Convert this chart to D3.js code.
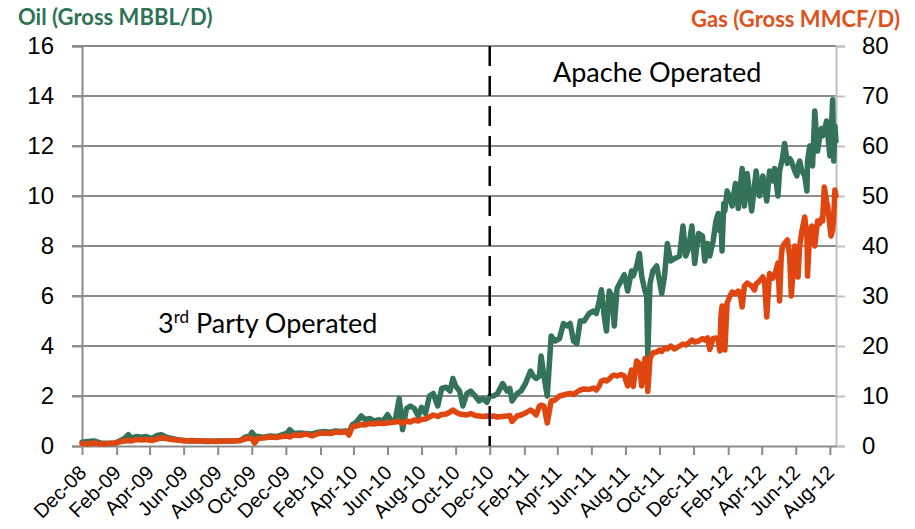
<!DOCTYPE html>
<html>
<head>
<meta charset="utf-8">
<script src="https://cdn.jsdelivr.net/npm/d3@7/dist/d3.min.js"></script>
<style>
  body { margin: 0; background: #fff; }
  svg { display: block; font-family: Lato, "Open Sans", sans-serif; }
</style>
</head>
<body>
<figure id="chart" style="margin:0"></figure>
<script>
// x-axis tick labels (every second month)
const tickLabels = ["Dec-08", "Feb-09", "Apr-09", "Jun-09", "Aug-09", "Oct-09", "Dec-09",
  "Feb-10", "Apr-10", "Jun-10", "Aug-10", "Oct-10", "Dec-10", "Feb-11", "Apr-11", "Jun-11",
  "Aug-11", "Oct-11", "Dec-11", "Feb-12", "Apr-12", "Jun-12", "Aug-12"];
const oilTicks = [0, 2, 4, 6, 8, 10, 12, 14, 16];
const gasTicks = [0, 10, 20, 30, 40, 50, 60, 70, 80];
const operatorChange = "2010-12-01";

// sample dates
const dates = [
  "2008-12-01", "2008-12-12", "2008-12-22", "2009-01-03", "2009-01-17", "2009-01-30",
  "2009-02-08", "2009-02-15", "2009-02-22", "2009-02-28", "2009-03-08", "2009-03-17",
  "2009-03-26", "2009-04-05", "2009-04-14", "2009-04-22", "2009-05-01", "2009-05-10",
  "2009-05-21", "2009-06-03", "2009-06-15", "2009-06-30", "2009-07-14", "2009-07-28",
  "2009-08-12", "2009-08-26", "2009-09-10", "2009-09-19", "2009-09-28", "2009-10-01",
  "2009-10-06", "2009-10-12", "2009-10-22", "2009-11-03", "2009-11-14", "2009-11-24",
  "2009-12-03", "2009-12-08", "2009-12-15", "2009-12-26", "2010-01-06", "2010-01-17",
  "2010-01-28", "2010-02-08", "2010-02-19", "2010-02-28", "2010-03-10", "2010-03-19",
  "2010-03-24", "2010-03-30", "2010-04-06", "2010-04-15", "2010-04-22", "2010-04-30",
  "2010-05-08", "2010-05-17", "2010-05-24", "2010-06-01", "2010-06-08", "2010-06-15",
  "2010-06-22", "2010-06-28", "2010-07-05", "2010-07-12", "2010-07-19", "2010-07-26",
  "2010-08-01", "2010-08-08", "2010-08-15", "2010-08-22", "2010-08-30", "2010-09-06",
  "2010-09-14", "2010-09-21", "2010-09-26", "2010-10-01", "2010-10-08", "2010-10-14",
  "2010-10-21", "2010-10-28", "2010-11-05", "2010-11-12", "2010-11-19", "2010-11-26",
  "2010-12-01", "2010-12-08", "2010-12-15", "2010-12-24", "2011-01-01", "2011-01-06",
  "2011-01-10", "2011-01-19", "2011-01-26", "2011-02-03", "2011-02-12", "2011-02-17",
  "2011-02-22", "2011-02-28", "2011-03-03", "2011-03-08", "2011-03-14", "2011-03-21",
  "2011-03-28", "2011-04-05", "2011-04-12", "2011-04-19", "2011-04-24", "2011-04-30",
  "2011-05-06", "2011-05-12", "2011-05-19", "2011-05-28", "2011-06-05", "2011-06-10",
  "2011-06-15", "2011-06-19", "2011-06-24", "2011-06-28", "2011-07-03", "2011-07-08",
  "2011-07-12", "2011-07-17", "2011-07-24", "2011-07-30", "2011-08-05", "2011-08-12",
  "2011-08-15", "2011-08-21", "2011-08-26", "2011-08-30", "2011-09-05", "2011-09-08",
  "2011-09-10", "2011-09-14", "2011-09-19", "2011-09-26", "2011-10-01", "2011-10-05",
  "2011-10-10", "2011-10-15", "2011-10-21", "2011-10-28", "2011-11-06", "2011-11-12",
  "2011-11-17", "2011-11-22", "2011-11-28", "2011-12-03", "2011-12-10", "2011-12-17",
  "2011-12-21", "2011-12-26", "2011-12-30", "2012-01-05", "2012-01-10", "2012-01-14",
  "2012-01-17", "2012-01-19", "2012-01-21", "2012-01-24", "2012-01-26", "2012-01-30",
  "2012-02-05", "2012-02-08", "2012-02-14", "2012-02-19", "2012-02-22", "2012-02-26",
  "2012-03-01", "2012-03-06", "2012-03-14", "2012-03-19", "2012-03-22", "2012-03-28",
  "2012-04-03", "2012-04-06", "2012-04-10", "2012-04-15", "2012-04-21", "2012-04-24",
  "2012-04-30", "2012-05-03", "2012-05-06", "2012-05-08", "2012-05-12", "2012-05-17",
  "2012-05-21", "2012-05-24", "2012-05-30", "2012-06-03", "2012-06-05", "2012-06-08",
  "2012-06-12", "2012-06-17", "2012-06-21", "2012-06-22", "2012-06-26", "2012-06-30",
  "2012-07-01", "2012-07-05", "2012-07-10", "2012-07-14", "2012-07-17", "2012-07-19",
  "2012-07-22", "2012-07-26", "2012-07-28", "2012-08-01", "2012-08-03", "2012-08-06",
  "2012-08-08", "2012-08-10", "2012-08-12"
];

// Oil, gross MBBL/D (left axis)
const oilValues = [
  0.15, 0.18, 0.2, 0.12, 0.1, 0.12,
  0.22, 0.3, 0.45, 0.32, 0.38, 0.35,
  0.38, 0.3, 0.42, 0.45, 0.35, 0.3,
  0.25, 0.22, 0.2, 0.2, 0.18, 0.2,
  0.2, 0.2, 0.22, 0.35, 0.4, 0.55,
  0.4, 0.38, 0.35, 0.4, 0.38, 0.45,
  0.5, 0.65, 0.5, 0.52, 0.5, 0.48,
  0.55, 0.58, 0.55, 0.6, 0.58, 0.6,
  0.55, 0.85, 0.95, 1.2, 1.05, 1.1,
  1.0, 1.05, 1.0, 1.25, 1.0, 1.05,
  1.9, 0.65, 1.5, 1.6, 1.5, 1.2,
  1.55, 1.3, 2.0, 2.1, 1.6, 2.3,
  2.35, 2.2, 2.7, 2.4, 2.2, 1.6,
  2.1, 2.2, 2.0, 1.8, 1.9, 1.75,
  2.0, 2.0, 2.1, 2.5, 2.2, 2.3,
  1.8, 2.1, 2.2, 2.5, 3.0, 2.8,
  2.7, 2.8, 3.6, 2.8, 2.0, 4.4,
  4.2, 4.3, 4.9, 4.8, 4.9, 4.2,
  4.1, 5.0, 5.0, 5.3, 5.4, 5.3,
  5.8, 6.25, 5.2, 4.6, 6.2, 6.0,
  4.8, 6.3, 6.6, 6.85, 6.2, 7.0,
  6.8, 7.2, 7.7, 6.8, 6.2, 6.0,
  3.6, 6.5, 7.0, 7.2, 6.6, 6.1,
  6.8, 8.1, 7.4, 7.5, 7.6, 8.8,
  7.6, 7.9, 8.8, 7.3, 8.5, 8.4,
  7.4, 8.1, 7.6, 8.2, 9.0, 9.3,
  8.6, 9.0, 7.8, 9.7, 9.4, 10.2,
  9.9, 9.6, 10.5, 9.5, 10.2, 11.1,
  9.6, 10.9, 9.4, 10.4, 11.0, 10.0,
  10.8, 10.4, 9.8, 11.0, 10.6, 11.1,
  10.0, 11.0, 11.3, 11.5, 12.1, 11.3,
  11.5, 11.4, 11.0, 10.8, 11.2, 11.4,
  11.0, 10.8, 10.2, 11.4, 12.0, 11.4,
  11.2, 13.4, 11.8, 12.4, 12.7, 12.4,
  12.6, 13.0, 12.5, 11.6, 12.3, 13.85,
  11.4, 12.8, 12.2
];

// Gas, gross MMCF/D (right axis)
const gasValues = [
  0.5, 0.4, 0.6, 0.4, 0.5, 0.6,
  0.9, 1.0, 1.1, 1.0, 1.3, 1.2,
  1.3, 1.1, 1.4, 1.6, 1.5, 1.3,
  1.2, 1.0, 1.1, 1.0, 1.0, 0.9,
  1.0, 1.0, 1.1, 1.4, 1.6, 1.5,
  0.6, 1.5, 1.6, 1.8, 1.7, 1.9,
  2.0, 1.8, 2.2, 2.1, 2.4, 2.0,
  2.5, 2.6, 2.5, 2.8, 2.7, 2.9,
  2.2, 3.8, 4.0, 4.3, 4.2, 4.5,
  4.4, 4.6, 4.5, 4.6, 4.7, 4.8,
  4.9, 4.5, 5.0, 4.8, 5.2, 5.0,
  5.3, 5.4, 5.8, 6.2, 5.9, 6.3,
  6.4, 6.8, 7.2, 6.8, 6.4, 6.3,
  6.2, 6.5, 6.1, 6.0, 5.9, 6.0,
  5.9, 6.0, 5.8, 5.9, 6.0, 6.1,
  4.9, 6.0, 6.2, 6.6, 7.2, 6.8,
  6.2, 8.0, 8.2, 8.0, 4.6, 9.0,
  9.2, 10.0, 10.2, 10.4, 10.5, 10.3,
  10.8, 11.2, 11.4, 11.3, 11.6, 11.2,
  12.0, 13.0, 13.2, 13.0, 13.4, 14.0,
  14.2, 14.0, 14.3, 14.0, 12.0, 15.2,
  11.9, 17.0, 16.5, 12.0, 17.5, 16.0,
  10.9, 17.5, 18.6, 18.8, 19.2, 18.9,
  19.6, 19.4, 20.0, 19.4, 20.0, 20.4,
  20.2, 20.6, 21.2, 20.8, 21.0, 21.5,
  21.2, 21.6, 19.3, 21.5, 21.6, 21.3,
  19.0, 26.0, 28.0, 27.5, 19.2, 28.6,
  30.2, 30.8, 30.5, 31.0, 30.8, 27.8,
  32.0, 32.6, 32.0, 31.2, 32.4, 33.0,
  33.8, 33.0, 25.8, 34.5, 33.6, 34.0,
  36.6, 29.0, 38.0, 39.8, 40.5, 41.2,
  38.0, 30.0, 40.0, 38.0, 33.8, 40.0,
  43.0, 45.8, 42.0, 34.0, 43.0, 44.0,
  41.0, 40.0, 45.0, 44.5, 45.5, 45.0,
  51.8, 49.0, 48.0, 44.0, 42.0, 43.2,
  46.0, 51.2, 50.0
];

const width = 915, height = 529;
const plotLeft = 82, plotRight = 836, plotTop = 46, plotBottom = 446;

const parseDay = d3.timeParse("%Y-%m-%d");
const parseTick = d3.timeParse("%b-%y");

const oilData = dates.map((d, i) => ({ date: parseDay(d), value: oilValues[i] }));
const gasData = dates.map((d, i) => ({ date: parseDay(d), value: gasValues[i] }));

const x = d3.scaleTime()
  .domain([parseDay(dates[0]), parseDay(dates[dates.length - 1])])
  .range([plotLeft, plotRight]);
const yOil = d3.scaleLinear().domain([0, 16]).range([plotBottom, plotTop]);
const yGas = d3.scaleLinear().domain([0, 80]).range([plotBottom, plotTop]);

const svg = d3.select("#chart").append("svg")
  .attr("width", width).attr("height", height);

// gridlines
svg.append("g")
  .selectAll("line").data(oilTicks.slice(1)).enter()
  .append("line")
  .attr("x1", plotLeft - 10).attr("x2", plotRight)
  .attr("y1", d => yOil(d)).attr("y2", d => yOil(d))
  .attr("stroke", "#8c8c8c").attr("stroke-width", 2);

// left axis
const leftAxis = svg.append("g")
  .attr("transform", "translate(" + plotLeft + ",0)")
  .call(d3.axisLeft(yOil).tickValues(oilTicks).tickSize(10).tickPadding(18));
leftAxis.select(".domain").attr("stroke", "#8c8c8c").attr("stroke-width", 2);
leftAxis.selectAll(".tick line").attr("stroke", "#8c8c8c").attr("stroke-width", 2);
leftAxis.selectAll("text").style("font-size", "24px").attr("fill", "#000");

// right axis
const rightAxis = svg.append("g")
  .attr("transform", "translate(" + plotRight + ",0)")
  .call(d3.axisRight(yGas).tickValues(gasTicks).tickSize(9).tickPadding(17));
rightAxis.select(".domain").attr("stroke", "#c0c0c0").attr("stroke-width", 2);
rightAxis.selectAll(".tick line").attr("stroke", "#c0c0c0").attr("stroke-width", 2);
rightAxis.selectAll("text").style("font-size", "24px").attr("fill", "#000");

// bottom axis
const bottomAxis = svg.append("g")
  .attr("transform", "translate(0," + plotBottom + ")")
  .call(d3.axisBottom(x)
    .tickValues(tickLabels.map(parseTick))
    .tickFormat(d3.timeFormat("%b-%y"))
    .tickSize(9).tickSizeOuter(0));
bottomAxis.select(".domain").attr("stroke", "#8c8c8c").attr("stroke-width", 2);
bottomAxis.selectAll(".tick line").attr("stroke", "#8c8c8c").attr("stroke-width", 2);
bottomAxis.selectAll("text")
  .style("font-size", "20px").attr("fill", "#000")
  .attr("text-anchor", "end")
  .attr("y", 0).attr("dy", 0)
  .attr("transform", "translate(5,28) rotate(-45)");

// series
const oilLine = d3.line().x(d => x(d.date)).y(d => yOil(d.value));
const gasLine = d3.line().x(d => x(d.date)).y(d => yGas(d.value));

svg.append("path").datum(oilData)
  .attr("d", oilLine)
  .attr("fill", "none").attr("stroke", "#34735a").attr("stroke-width", 5.5)
  .attr("stroke-linejoin", "round").attr("stroke-linecap", "round");

svg.append("path").datum(gasData)
  .attr("d", gasLine)
  .attr("fill", "none").attr("stroke", "#e04610").attr("stroke-width", 5.5)
  .attr("stroke-linejoin", "round").attr("stroke-linecap", "round");

// operator change
svg.append("line")
  .attr("x1", x(parseDay(operatorChange))).attr("x2", x(parseDay(operatorChange)))
  .attr("y1", plotTop).attr("y2", plotBottom)
  .attr("stroke", "#000").attr("stroke-width", 2.5)
  .attr("stroke-dasharray", "20,10");

// annotations
svg.append("text")
  .attr("x", 553).attr("y", 82)
  .style("font-size", "27px")
  .text("Apache Operated");

const party = svg.append("text")
  .attr("x", 158).attr("y", 333)
  .style("font-size", "27px");
party.append("tspan").text("3");
party.append("tspan").attr("dy", -10).style("font-size", "17px").text("rd");
party.append("tspan").attr("dy", 10).text(" Party Operated");

// axis titles
svg.append("text")
  .attr("x", 18).attr("y", 25)
  .style("font-size", "22px").style("font-weight", "bold")
  .attr("fill", "#2f7356")
  .text("Oil (Gross MBBL/D)");

svg.append("text")
  .attr("x", 900).attr("y", 27)
  .attr("text-anchor", "end")
  .style("font-size", "22px").style("font-weight", "bold")
  .attr("fill", "#e2501a")
  .text("Gas (Gross MMCF/D)");
</script>
</body>
</html>
